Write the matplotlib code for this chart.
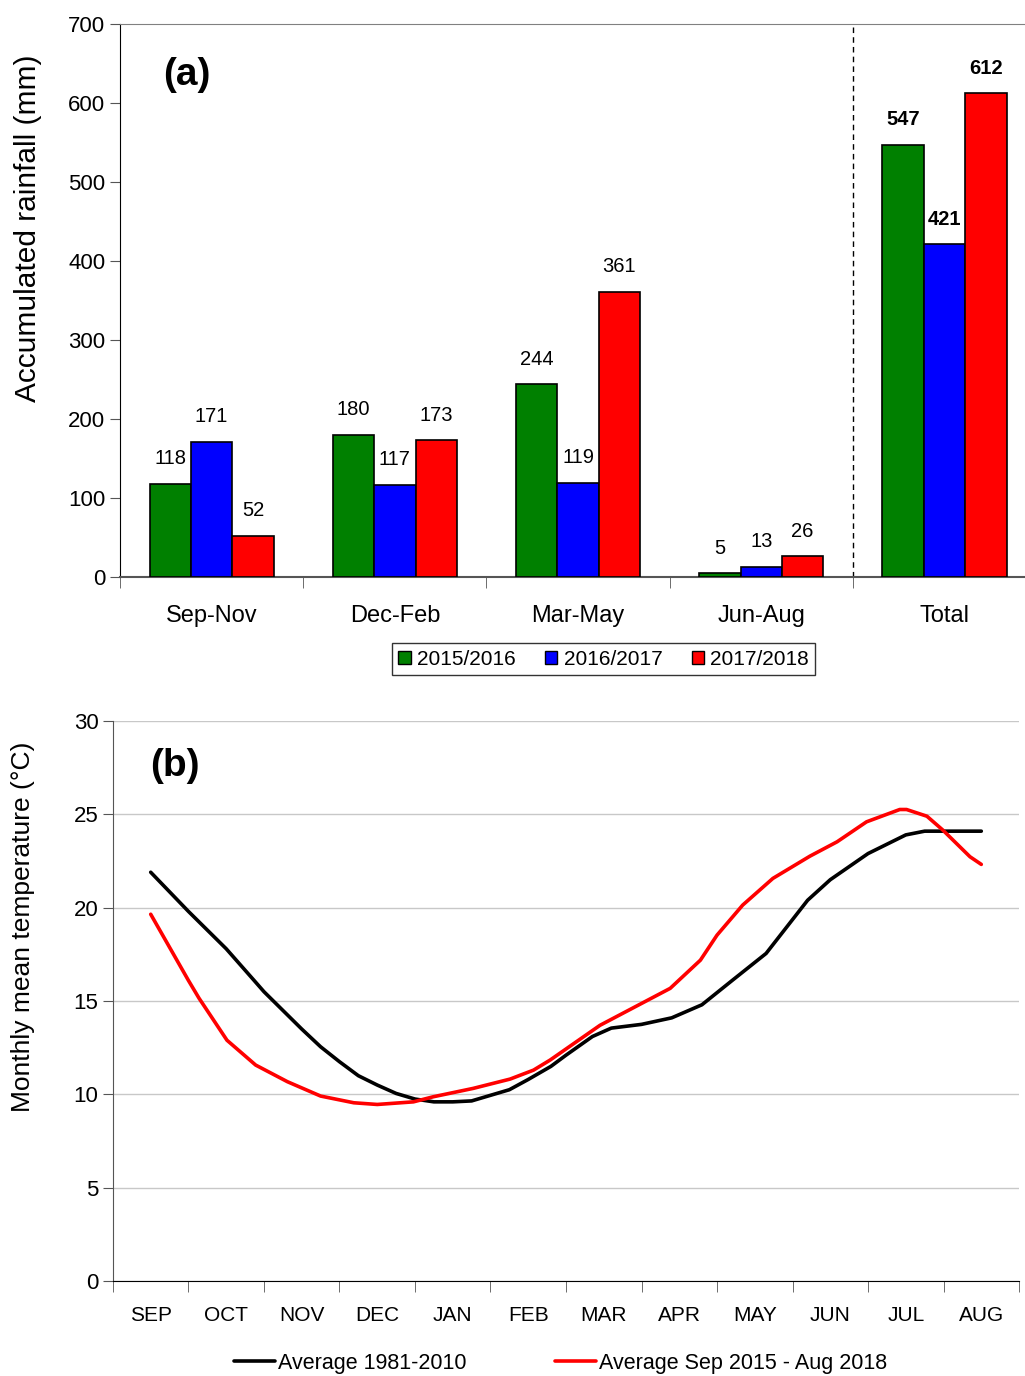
import numpy as np
import matplotlib
matplotlib.use("Agg")
import matplotlib.pyplot as plt
from matplotlib.patches import Patch

plt.rcParams['font.family'] = ['Liberation Sans', 'DejaVu Sans']

# (a) seasonal rainfall
seasons = ["Sep-Nov", "Dec-Feb", "Mar-May", "Jun-Aug", "Total"]
years = ["2015/2016", "2016/2017", "2017/2018"]
rain_1516 = [118, 180, 244, 5, 547]
rain_1617 = [171, 117, 119, 13, 421]
rain_1718 = [52, 173, 361, 26, 612]
bar_colors = ["#008000", "#0000FF", "#FF0000"]

# (b) monthly mean temperature, x in months from mid-September
months = ["SEP", "OCT", "NOV", "DEC", "JAN", "FEB", "MAR", "APR", "MAY", "JUN", "JUL", "AUG"]
clim_x = [0, 0.5, 1, 1.37, 1.5, 2, 2.25, 2.5, 2.75, 3, 3.25, 3.5, 3.75, 4, 4.25, 4.5,
          4.75, 5, 5.3, 5.5, 5.85, 6.1, 6.5, 6.9, 7.3, 7.7, 8.15, 8.7, 9.0, 9.5, 10.0,
          10.25, 11.0]
clim_t = [21.9, 19.8, 17.8, 16.1, 15.5, 13.5, 12.55, 11.75, 11.0, 10.5, 10.05, 9.75,
          9.6, 9.6, 9.65, 9.95, 10.25, 10.8, 11.5, 12.1, 13.1, 13.55, 13.75, 14.1, 14.8,
          16.1, 17.55, 20.4, 21.5, 22.9, 23.9, 24.1, 24.1]
obs_x = [0, 0.5, 0.64, 1.01, 1.39, 1.81, 2.25, 2.69, 3.0, 3.48, 3.74, 4.27, 4.76, 5.07,
         5.29, 5.95, 6.88, 7.28, 7.5, 7.84, 8.24, 8.73, 9.09, 9.48, 9.92, 10.01, 10.28,
         10.49, 10.85, 11.0]
obs_t = [19.65, 16.1, 15.15, 12.9, 11.57, 10.68, 9.91, 9.55, 9.46, 9.6, 9.87, 10.32,
         10.82, 11.3, 11.84, 13.7, 15.68, 17.19, 18.53, 20.14, 21.57, 22.76, 23.53, 24.6,
         25.26, 25.26, 24.9, 24.16, 22.73, 22.32]

fig = plt.figure(figsize=(10.25, 13.76), dpi=100)

# ---- panel (a)  (axes runs slightly past the right edge, like the original)
ax1 = fig.add_axes([0.1171, 0.5807, 0.8937, 0.4019])
x = np.arange(len(seasons))
w = 0.226
for i, (vals, col) in enumerate(zip([rain_1516, rain_1617, rain_1718], bar_colors)):
    pos = x + (i - 1) * w
    ax1.bar(pos, vals, w, color=col, edgecolor="black", linewidth=1.2, label=years[i], zorder=3)
    for j, v in enumerate(vals):
        ax1.annotate(str(v), (pos[j], v), xytext=(0, 18), textcoords="offset points",
                     ha="center", va="center", fontsize=14.5,
                     fontweight="bold" if seasons[j] == "Total" else "normal")

ax1.axvline(3.5, color="black", linestyle=(0, (4, 3)), linewidth=1)
ax1.set_xlim(-0.5, 4.5)
ax1.set_ylim(0, 700)
ax1.set_yticks(range(0, 701, 100))
ax1.set_xticks(x)
ax1.set_xticklabels(seasons, fontsize=17)
ax1.set_xticks(np.arange(-0.5, 4.6, 1), minor=True)
ax1.tick_params(axis="x", which="major", length=0, pad=20)
ax1.tick_params(axis="x", which="minor", length=8, direction="out", color="#555555")
ax1.tick_params(axis="y", labelsize=16, length=7, color="#555555")
ax1.spines["right"].set_visible(False)
ax1.spines["top"].set_color("#808080")
ax1.spines["bottom"].set_color("#555555")
ax1.spines["bottom"].set_linewidth(1.5)
ax1.spines["left"].set_color("black")
ax1.set_ylabel("Accumulated rainfall (mm)", fontsize=21.5)
ax1.yaxis.set_label_coords(-0.085, 0.631)
ax1.text(0.047, 0.908, "(a)", transform=ax1.transAxes, fontsize=28, fontweight="bold",
         ha="left", va="center")

handles = [Patch(facecolor=c, edgecolor="black", label=y) for c, y in zip(bar_colors, years)]
fig.legend(handles=handles, loc="center", bbox_to_anchor=(0.589, 0.521), ncol=3,
           fontsize=15, frameon=True, fancybox=False, edgecolor="black",
           handlelength=0.6, handleheight=0.6, handletextpad=0.3, columnspacing=1.4,
           borderpad=0.3)

# ---- panel (b)
ax2 = fig.add_axes([0.1102, 0.069, 0.884, 0.407])
ax2.plot(clim_x, clim_t, color="black", linewidth=2.6, label="Average 1981-2010",
         solid_capstyle="round", zorder=3)
ax2.plot(obs_x, obs_t, color="#FF0000", linewidth=2.6, label="Average Sep 2015 - Aug 2018",
         solid_capstyle="round", zorder=3)
ax2.set_xlim(-0.5, 11.5)
ax2.set_ylim(0, 30)
ax2.set_yticks(range(0, 31, 5))
ax2.yaxis.grid(True, color="#C8C8C8", linewidth=1)
ax2.set_axisbelow(True)
ax2.set_xticks(np.arange(12))
ax2.set_xticklabels(months, fontsize=15)
ax2.set_xticks(np.arange(-0.5, 11.6, 1), minor=True)
ax2.tick_params(axis="x", which="major", length=0, pad=18)
ax2.tick_params(axis="x", which="minor", length=8, direction="out", color="#555555")
ax2.tick_params(axis="y", labelsize=16, length=7, color="#555555")
for s in ["top", "right"]:
    ax2.spines[s].set_visible(False)
ax2.spines["left"].set_color("#555555")
ax2.spines["bottom"].set_color("black")
ax2.set_ylabel("Monthly mean temperature (°C)", fontsize=19)
ax2.yaxis.set_label_coords(-0.086, 0.632)
ax2.text(0.041, 0.92, "(b)", transform=ax2.transAxes, fontsize=28, fontweight="bold",
         ha="left", va="center")

fig.legend(handles=ax2.get_lines(), loc="center", bbox_to_anchor=(0.547, 0.0094), ncol=2,
           fontsize=15.5, frameon=False, handlelength=1.9, handletextpad=0.15,
           columnspacing=4.1)

fig.savefig("out.png", dpi=100)
